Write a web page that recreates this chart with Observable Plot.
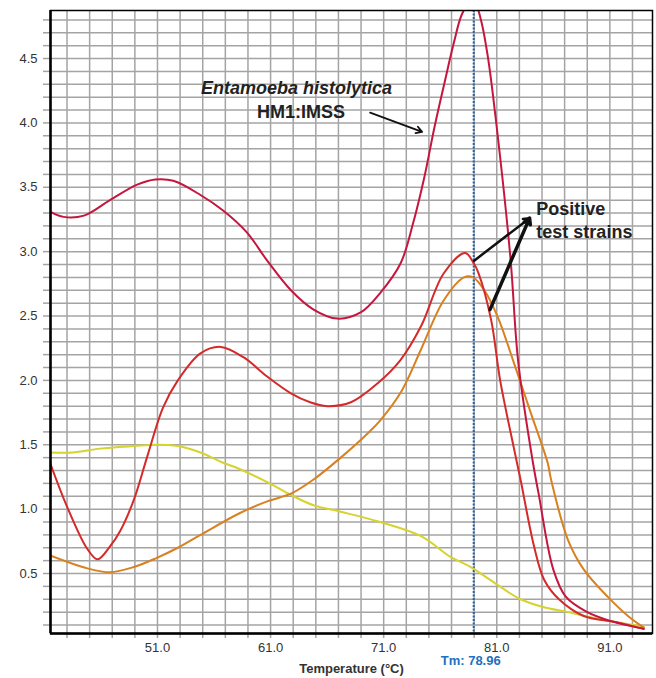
<!DOCTYPE html>
<html><head><meta charset="utf-8">
<script src="https://cdn.jsdelivr.net/npm/d3@7"></script>
<script src="https://cdn.jsdelivr.net/npm/@observablehq/plot@0.6"></script>
<style>body{margin:0;background:#fff}svg{display:block}</style>
</head><body><div id="chart"></div>
<script>
// Series: E. histolytica HM1:IMSS (crimson)
const hm1T = [41.5,42.7,44.5,46.8,49.2,50.8,52.4,54.8,56.8,58.9,60.7,62.8,64.8,66.9,69.0,70.7,72.5,73.6,74.6,75.5,76.4,77.2,77.9,78.5,79.1,79.6,80.2,80.9,82.2,82.9,84.2,84.7,86.0,87.1,89.0,91.1,94.0];
const hm1V = [3.31,3.27,3.28,3.40,3.52,3.56,3.55,3.44,3.32,3.15,2.93,2.70,2.55,2.48,2.53,2.68,2.91,3.22,3.58,3.97,4.32,4.62,4.84,4.92,4.92,4.80,4.52,4.04,2.96,2.14,1.36,1.12,0.53,0.32,0.20,0.13,0.07];
// Positive strain 1 (red)
const pos1T = [41.5,43.0,44.8,45.7,46.8,47.7,48.9,50.1,51.5,52.8,54.8,56.6,58.6,60.7,62.8,64.5,66.0,68.1,70.5,72.5,74.3,76.3,78.2,78.9,79.4,80.5,81.3,82.5,83.1,84.3,85.2,86.5,88.7,91.7,94.0];
const pos1V = [1.36,1.02,0.69,0.61,0.71,0.83,1.07,1.41,1.79,2.00,2.21,2.26,2.18,2.03,1.90,1.83,1.80,1.83,1.98,2.16,2.42,2.83,2.99,2.92,2.83,2.47,2.00,1.48,1.23,0.71,0.45,0.30,0.17,0.12,0.07];
// Positive strain 2 (orange)
const pos2T = [41.5,44.8,46.8,48.9,50.9,52.8,54.8,58.3,60.7,62.8,64.8,67.2,69.6,70.7,72.6,74.3,76.3,78.1,78.9,79.9,81.1,82.5,84.0,85.5,85.8,87.3,88.7,90.8,92.6,94.0];
const pos2V = [0.64,0.54,0.51,0.55,0.62,0.70,0.80,0.97,1.06,1.12,1.23,1.40,1.59,1.69,1.92,2.24,2.62,2.80,2.80,2.70,2.49,2.14,1.75,1.36,1.23,0.76,0.53,0.32,0.17,0.08];
// Other strain (yellow)
const yelT = [41.5,43.5,45.9,48.9,50.9,52.8,54.8,56.8,58.3,60.7,62.8,64.8,67.2,70.7,74.3,76.9,78.7,81.1,83.1,85.1,87.3,89.3,91.7,94.0];
const yelV = [1.44,1.44,1.47,1.49,1.50,1.49,1.44,1.36,1.31,1.21,1.11,1.03,0.98,0.90,0.79,0.63,0.55,0.41,0.30,0.24,0.20,0.16,0.12,0.09];

const seriesNames = ["yellow","orange","red","hm1"];
const seriesColors = ["#d6d22e","#d9801f","#d42a2a","#c4163e"];

const xGridTicks = d3.range(43, 94, 2);
const yGridTicks = d3.range(1, 49).map(d => d / 10);
const xLabelTicks = [51, 61, 71, 81, 91];
const yLabelTicks = [0.5, 1.0, 1.5, 2.0, 2.5, 3.0, 3.5, 4.0, 4.5];
const xDomain = [41.54, 94.77];
const yDomain = [0.034, 4.873];

const tmValue = 78.96;

// Annotations
const speciesLabel = [{t: 63.3, v: 4.27, text: "Entamoeba histolytica"}];
const strainLabel = [{t: 63.7, v: 4.08, text: "HM1:IMSS"}];
const positiveLabel = [
  {t: 84.5, v: 3.33, text: "Positive"},
  {t: 84.5, v: 3.15, text: "test strains"}
];
const arrows = [
  {t1: 69.8, v1: 4.08, t2: 74.4, v2: 3.93, w: 1.8},
  {t1: 79.0, v1: 2.93, t2: 83.9, v2: 3.26, w: 2.5},
  {t1: 80.4, v1: 2.55, t2: 83.9, v2: 3.26, w: 3.5}
];

const seriesList = [
  {name: "yellow", t: yelT, v: yelV},
  {name: "orange", t: pos2T, v: pos2V},
  {name: "red", t: pos1T, v: pos1V},
  {name: "hm1", t: hm1T, v: hm1V}
];
const data = seriesList.flatMap(s => s.t.map((t, i) => ({series: s.name, t, v: s.v[i]})));

const grey = "#a4a4a4";
const annot = {x: "t", y: "v", text: "text", fontWeight: "bold", fontSize: 18, fill: "#222"};
const chart = Plot.plot({
  width: 656, height: 678,
  marginLeft: 50, marginRight: 4, marginTop: 10, marginBottom: 45,
  style: {fontFamily: "Arial, 'Liberation Sans', sans-serif", fontSize: "13px", color: "#333", background: "#fff"},
  x: {domain: xDomain, label: null},
  y: {domain: yDomain, label: null},
  color: {domain: seriesNames, range: seriesColors},
  marks: [
    Plot.gridX(xGridTicks, {stroke: grey, strokeWidth: 1.5, strokeOpacity: 1}),
    Plot.gridY(yGridTicks, {stroke: grey, strokeWidth: 1.5, strokeOpacity: 1}),
    Plot.axisX({ticks: xGridTicks, tickSize: 5, tickFormat: () => "", stroke: grey, strokeWidth: 1.5, label: null}),
    Plot.axisY({ticks: yGridTicks, tickSize: 7, tickFormat: () => "", stroke: grey, strokeWidth: 1.5, label: null}),
    Plot.axisX({ticks: xLabelTicks, tickSize: 0, tickPadding: 9, tickFormat: d3.format(".1f"), fontSize: 13, fill: "#333", label: null}),
    Plot.axisY({ticks: yLabelTicks, tickSize: 0, tickPadding: 13, tickFormat: d3.format(".1f"), fontSize: 13, fill: "#333", label: null}),
    Plot.ruleX([tmValue], {stroke: "#2560a8", strokeWidth: 2, strokeDasharray: "2,1.5"}),
    Plot.line(data, {x: "t", y: "v", z: "series", stroke: "series", strokeWidth: 2, curve: "catmull-rom", clip: true}),
    Plot.frame({stroke: "#000", strokeWidth: 1.5}),
    Plot.ruleX([xDomain[0]], {stroke: "#000", strokeWidth: 2.5}),
    Plot.ruleY([yDomain[0]], {stroke: "#000", strokeWidth: 2.5}),
    Plot.arrow(arrows, {x1: "t1", y1: "v1", x2: "t2", y2: "v2", stroke: "#111", strokeWidth: "w", headLength: 10}),
    Plot.text(speciesLabel, {...annot, fontStyle: "italic", textAnchor: "middle"}),
    Plot.text(strainLabel, {...annot, textAnchor: "middle"}),
    Plot.text(positiveLabel, {...annot, textAnchor: "start"}),
    Plot.text(["Temperature (°C)"], {frameAnchor: "bottom", dy: 39, fontWeight: "bold", fontSize: 13, fill: "#333"}),
    Plot.text([tmValue], {x: d => d, frameAnchor: "bottom", dx: -3, dy: 31, text: d => "Tm: " + d3.format(".2f")(d), fontWeight: "bold", fontSize: 13, fill: "#1f6fc0"})
  ]
});
document.getElementById("chart").append(chart);
</script>
</body></html>
